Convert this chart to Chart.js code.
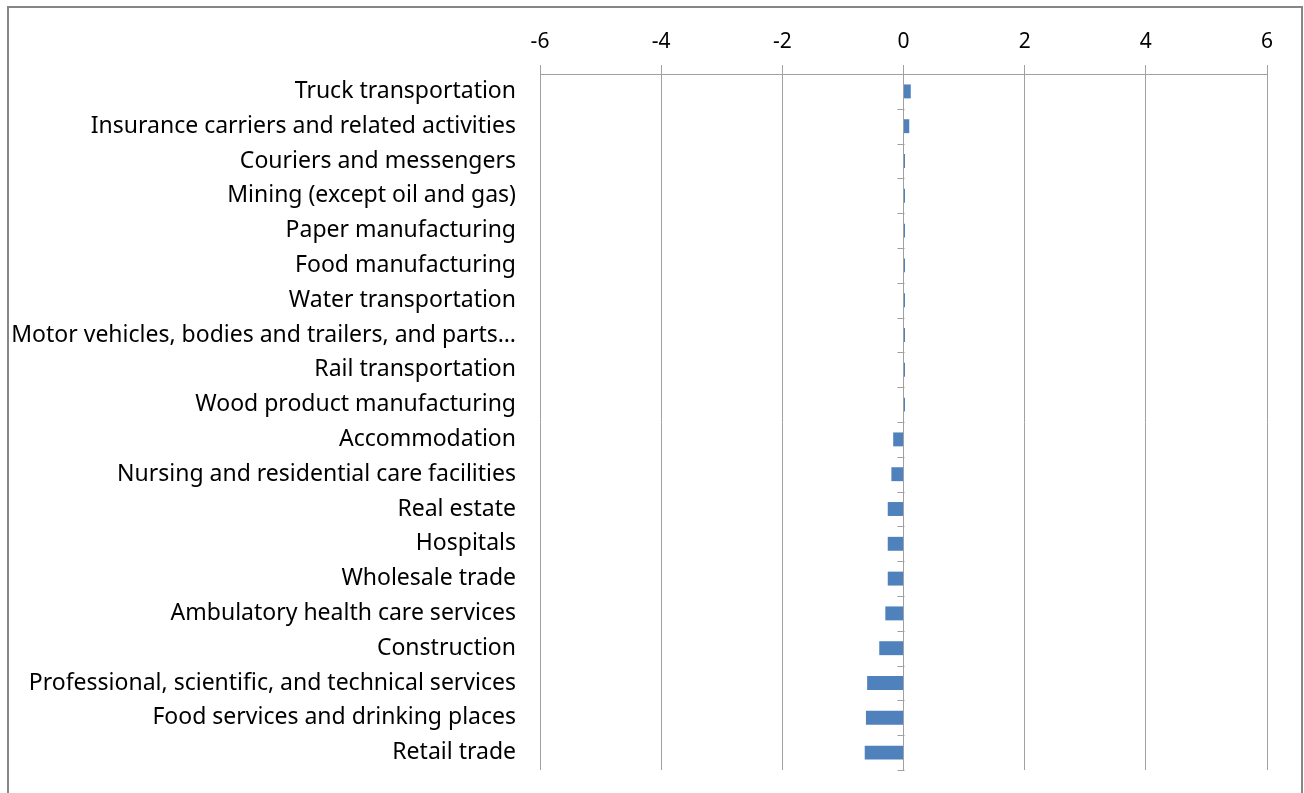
<!DOCTYPE html>
<html>
<head>
<meta charset="utf-8">
<script src="https://cdn.jsdelivr.net/npm/chart.js@4"></script>
<style>
  html, body { margin: 0; padding: 0; background: #fff; overflow: hidden; }
  #frame {
    position: absolute; left: 7px; top: 6px; width: 1292px; height: 800px;
    border: 2px solid #868686; box-sizing: content-box;
  }
  #wrap { position: absolute; left: 0; top: 0; width: 1304px; height: 793px; }
</style>
</head>
<body>
<div id="frame"></div>
<div id="wrap"><canvas id="industryChart"></canvas></div>
<script>
const industries = [
  'Truck transportation',
  'Insurance carriers and related activities',
  'Couriers and messengers',
  'Mining (except oil and gas)',
  'Paper manufacturing',
  'Food manufacturing',
  'Water transportation',
  'Motor vehicles, bodies and trailers, and parts…',
  'Rail transportation',
  'Wood product manufacturing',
  'Accommodation',
  'Nursing and residential care facilities',
  'Real estate',
  'Hospitals',
  'Wholesale trade',
  'Ambulatory health care services',
  'Construction',
  'Professional, scientific, and technical services',
  'Food services and drinking places',
  'Retail trade'
];

const changeValues = [
  0.12, 0.095, 0.025, 0.025, 0.025, 0.025, 0.025, 0.025, 0.025, 0.025,
  -0.17, -0.2, -0.26, -0.26, -0.26, -0.3, -0.4, -0.6, -0.62, -0.64
];

const axisMin = -6;
const axisMax = 6;
const axisStep = 2;

const gridColor = '#a0a0a0';
const labelFont = "'Noto Sans', 'Open Sans', sans-serif";

// little tick marks along the zero line, between the categories
const zeroAxisTicks = {
  id: 'zeroAxisTicks',
  afterDraw(chart) {
    const { ctx, scales } = chart;
    const x0 = Math.round(scales.x.getPixelForValue(0)) + 0.5;
    ctx.save();
    ctx.strokeStyle = gridColor;
    ctx.lineWidth = 1;
    ctx.beginPath();
    for (let i = 0; i <= industries.length; i++) {
      const y = Math.round(scales.y.getPixelForValue(i - 0.5)) + 0.5;
      ctx.moveTo(x0 - 7, y);
      ctx.lineTo(x0, y);
    }
    ctx.stroke();
    ctx.restore();
  }
};

const ctx = document.getElementById('industryChart').getContext('2d');

new Chart(ctx, {
  type: 'bar',
  data: {
    labels: industries,
    datasets: [{
      data: changeValues,
      backgroundColor: '#4f81bd',
      borderWidth: 0,
      barPercentage: 0.4,
      categoryPercentage: 1
    }]
  },
  options: {
    indexAxis: 'y',
    responsive: true,
    maintainAspectRatio: false,
    animation: false,
    layout: {
      padding: { left: 0, right: 37, top: 0, bottom: 23 }
    },
    plugins: {
      legend: { display: false },
      tooltip: { enabled: false }
    },
    scales: {
      x: {
        position: 'top',
        min: axisMin,
        max: axisMax,
        afterFit(scale) { scale.height = 74; },
        ticks: {
          stepSize: axisStep,
          color: '#000',
          padding: 10,
          font: { family: labelFont, size: 21 }
        },
        grid: {
          color: gridColor,
          lineWidth: 1,
          tickLength: 9,
          drawTicks: true
        },
        border: { color: gridColor, width: 1 }
      },
      y: {
        afterFit(scale) {
          scale.width = 540;
          scale.paddingTop = 0;
          scale.paddingBottom = 0;
        },
        ticks: {
          color: '#000',
          padding: 16,
          autoSkip: false,
          font: { family: labelFont, size: 23 }
        },
        grid: { display: false },
        border: { display: false }
      }
    }
  },
  plugins: [zeroAxisTicks]
});
</script>
</body>
</html>
